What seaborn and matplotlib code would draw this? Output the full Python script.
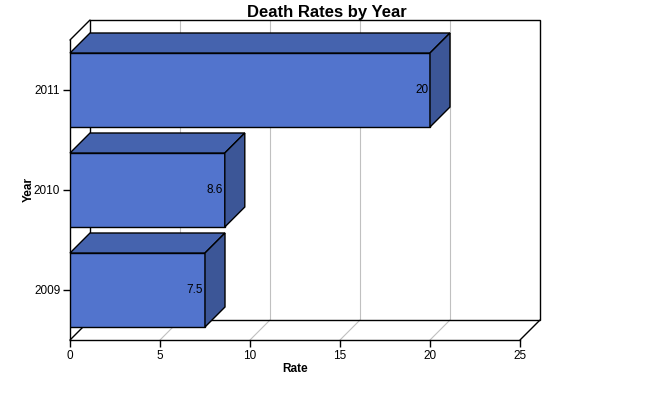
import matplotlib
matplotlib.use("Agg")
import matplotlib.pyplot as plt
from matplotlib.patches import Polygon
import pandas as pd
import seaborn as sns

years = ['2009', '2010', '2011']
rates = [7.5, 8.6, 20]
order = ['2011', '2010', '2009']
xticks = [0, 5, 10, 15, 20, 25]

front = '#5274CD'
top = '#4563AE'
side = '#3C5697'

sns.set_style('white')
plt.rcParams['font.family'] = ['Liberation Sans', 'DejaVu Sans']
plt.rcParams['text.color'] = 'black'
plt.rcParams['axes.labelcolor'] = 'black'

df = pd.DataFrame({'Year': years, 'Rate': rates})

fig = plt.figure(figsize=(6.5, 4), dpi=100)
ax = fig.add_axes([70 / 650, 60 / 400, 450 / 650, 300 / 400])

sns.barplot(data=df, x='Rate', y='Year', order=order, orient='h', color=front,
            saturation=1, edgecolor='black', linewidth=1, width=0.74, ax=ax, zorder=3)

ax.set_xlim(0, 25)
ax.set_ylim(2.5, -0.5)

# depth offset: 20 px right, 20 px up
dx = 25 / 450 * 20
dy = -3 / 300 * 20
y0, y1 = 2.5, -0.5

# back wall, floor and gridlines
for t in xticks[1:-1]:
    ax.plot([t, t + dx], [y0, y0 + dy], color='#c0c0c0', lw=0.8, zorder=0, clip_on=False)
    ax.plot([t + dx, t + dx], [y0 + dy, y1 + dy], color='#c0c0c0', lw=0.8, zorder=0, clip_on=False)
wall = Polygon([(dx, y0 + dy), (25 + dx, y0 + dy), (25 + dx, y1 + dy), (dx, y1 + dy)],
               closed=True, fill=False, edgecolor='black', lw=1, zorder=1, clip_on=False)
ax.add_patch(wall)
ax.plot([0, dx], [y0, y0 + dy], color='black', lw=1, zorder=1, clip_on=False)
ax.plot([25, 25 + dx], [y0, y0 + dy], color='black', lw=1, zorder=1, clip_on=False)
ax.plot([0, dx], [y1, y1 + dy], color='black', lw=1, zorder=1, clip_on=False)

# 3D faces for each bar
for p in ax.patches[:]:
    if not hasattr(p, 'get_width'):
        continue
    x, y, w, h = p.get_x(), p.get_y(), p.get_width(), p.get_height()
    if w <= 0:
        continue
    ytop = min(y, y + h)
    ybot = max(y, y + h)
    ax.add_patch(Polygon([(x, ytop), (x + w, ytop), (x + w + dx, ytop + dy), (x + dx, ytop + dy)],
                         closed=True, facecolor=top, edgecolor='black', lw=1, zorder=3, clip_on=False))
    ax.add_patch(Polygon([(x + w, ytop), (x + w, ybot), (x + w + dx, ybot + dy), (x + w + dx, ytop + dy)],
                         closed=True, facecolor=side, edgecolor='black', lw=1, zorder=3, clip_on=False))
    ax.text(x + w - 0.1, (ytop + ybot) / 2, '{:g}'.format(w), ha='right', va='center',
            fontsize=8.5, color='black', zorder=4)

ax.set_xticks(xticks)
ax.tick_params(axis='both', which='both', length=5, width=1, color='black',
               labelsize=8.5, labelcolor='black', direction='out', bottom=True, left=True)
ax.tick_params(axis='x', pad=2)
ax.tick_params(axis='y', pad=2)
for s in ['top', 'right']:
    ax.spines[s].set_visible(False)
for s in ['left', 'bottom']:
    ax.spines[s].set_color('black')
    ax.spines[s].set_linewidth(1)

ax.set_xlabel('Rate', fontsize=8.5, fontweight='bold')
ax.set_ylabel('Year', fontsize=8.5, fontweight='bold')
ax.xaxis.set_label_coords(0.5, -23 / 300)
ax.yaxis.set_label_coords(-35 / 450, 0.5)
fig.text(327 / 650, 1 - 12 / 400, 'Death Rates by Year', ha='center', va='center',
         fontsize=12, fontweight='bold', color='black')

fig.savefig('out.png', dpi=100)
